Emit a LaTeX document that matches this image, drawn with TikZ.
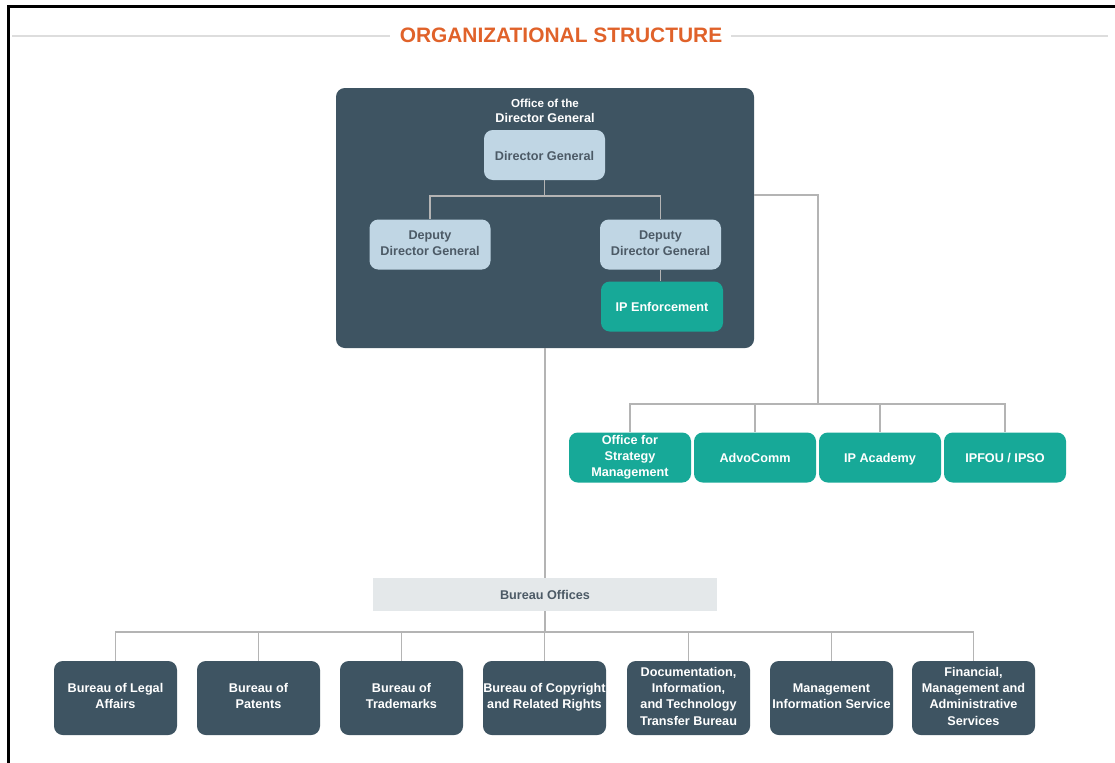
\documentclass[tikz,border=0pt]{standalone}
\usepackage{fontspec}
\setmainfont{Liberation Sans}
\usetikzlibrary{positioning}

\definecolor{slate}{HTML}{3E5462}
\definecolor{teal2}{HTML}{17A998}
\definecolor{paleblue}{HTML}{C0D6E4}
\definecolor{palegrey}{HTML}{E4E8EA}
\definecolor{inkgrey}{HTML}{4C5A66}
\definecolor{titleorange}{HTML}{E0622A}
\definecolor{rulegrey}{HTML}{DDDDDD}
\definecolor{linkgrey}{HTML}{B4B4B4}

\begin{document}
\begin{tikzpicture}[
    x=0.02cm, y=-0.02cm,   % 1 unit = 1 px of the 1115 x 762 layout
    font=\fontsize{7.2}{9.2}\selectfont\bfseries,
    conn/.style={draw=linkgrey, line width=1.1pt},
    boxtext/.style={align=center, execute at begin node=\rule{0pt}{8pt},
        execute at end node=\rule[-2pt]{0pt}{2pt}},
    office/.style={rectangle, rounded corners=5pt, fill=slate,
        minimum width=418*0.02cm, minimum height=260*0.02cm, inner sep=0pt},
    chief/.style={boxtext, rectangle, rounded corners=5pt, fill=paleblue, text=inkgrey,
        minimum width=121*0.02cm, minimum height=50*0.02cm, inner sep=1pt},
    unit/.style={boxtext, rectangle, rounded corners=5pt, fill=teal2, text=white,
        minimum width=122*0.02cm, minimum height=50*0.02cm, inner sep=1pt},
    bureau/.style={boxtext, rectangle, rounded corners=5pt, fill=slate, text=white,
        minimum width=123*0.02cm, minimum height=74*0.02cm, inner sep=0pt},
]
\useasboundingbox (0,0) rectangle (1115,762);

% ── Frame and title ──────────────────────────────────────────────────────────
\draw[line width=1.3pt, line cap=rect] (8.5,762) -- (8.5,6.5) -- (1115,6.5);
\node[text=titleorange, font=\fontsize{11.9}{14}\selectfont\bfseries] (title) at (561,35.5) {ORGANIZATIONAL STRUCTURE};
\draw[rulegrey, line width=1.1pt] (12,36) -- (390,36);
\draw[rulegrey, line width=1.1pt] (731,36) -- (1108,36);

% ── Office of the Director General ───────────────────────────────────────────
\node[office] (odg) at (545,218) {};
\node[text=white, align=center, font=\fontsize{6.6}{8.4}\selectfont\bfseries] (odglbl) at (545,111) {Office of the\\[0.5pt]\fontsize{7.2}{8.4}\selectfont Director General};

\node[chief] (dg) at (544.5,155) {Director General};
\node[chief] (ddg1) at (430,244.5) {Deputy\\Director General};
\node[chief] (ddg2) at (660.5,244.5) {Deputy\\Director General};
\node[unit] (ipe) at (662,306.5) {IP Enforcement};

\coordinate (dgbus) at (544.5,196);
\draw[conn] (dg.south) -- (dgbus);
\draw[conn] (dgbus) -| (ddg1.north);
\draw[conn] (dgbus) -| (ddg2.north);
\draw[conn] (ddg2.south) -- (ddg2.south |- ipe.north);

% ── Units under the DG ───────────────────────────────────────────────────────
\node[unit] (osm) at (630,457.5) {Office for\\Strategy\\Management};
\node[unit] (advo) at (755,457.5) {AdvoComm};
\node[unit] (acad) at (880,457.5) {IP Academy};
\node[unit] (ipfou) at (1005,457.5) {IPFOU / IPSO};

\coordinate (rtop) at (818,195);
\coordinate (rbus) at (818,404);
\draw[conn] (odg.east |- rtop) -- (rtop) -- (rbus);
\draw[conn] (rbus) -| (osm.north);
\draw[conn] (rbus) -| (advo.north);
\draw[conn] (rbus) -| (acad.north);
\draw[conn] (rbus) -| (ipfou.north);

% ── Bureau offices ───────────────────────────────────────────────────────────
\node[rectangle, fill=palegrey, text=inkgrey, minimum width=344*0.02cm,
      minimum height=33*0.02cm, inner sep=0pt] (bo) at (545,594.5) {Bureau Offices};
\draw[conn] (odg.south) -- (bo.north);

\node[bureau] (legal) at (115.5,698) {Bureau of Legal\\Affairs};
\node[bureau] (pat) at (258.5,698) {Bureau of\\Patents};
\node[bureau] (tm) at (401.5,698) {Bureau of\\Trademarks};
\node[bureau] (copy) at (544.5,698) {Bureau of Copyright\\and Related Rights};
\node[bureau] (ditt) at (688.5,698) {Documentation,\\Information,\\and Technology\\Transfer Bureau};
\node[bureau] (mis) at (831.5,698) {Management\\Information Service};
\node[bureau] (fmas) at (973.5,698) {Financial,\\Management and\\Administrative\\Services};

\coordinate (bbus) at (545,632);
\draw[conn] (bo.south) -- (bbus);
\draw[conn] (bbus) -| (legal.north);
\draw[conn] (bbus) -| (pat.north);
\draw[conn] (bbus) -| (tm.north);
\draw[conn] (bbus) -| (copy.north);
\draw[conn] (bbus) -| (ditt.north);
\draw[conn] (bbus) -| (mis.north);
\draw[conn] (bbus) -| (fmas.north);

\end{tikzpicture}
\end{document}
